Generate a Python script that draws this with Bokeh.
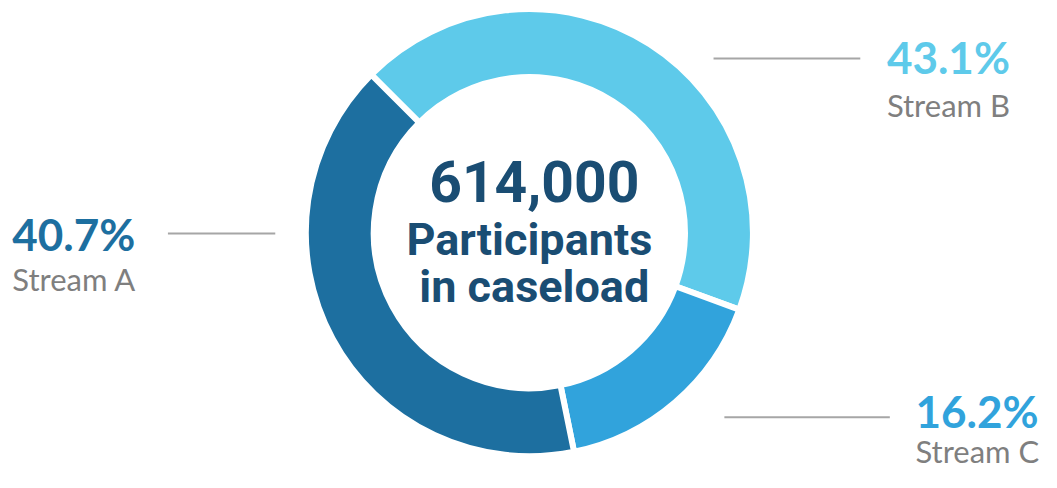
import math
from bokeh.plotting import figure
from bokeh.models import Range1d, ColumnDataSource
from bokeh.core.properties import value
from bokeh.embed import file_html
from bokeh.resources import INLINE

# ---- data ----
streams = ["Stream B", "Stream C", "Stream A"]          # clockwise order from upper-left
shares = [43.1, 16.2, 40.7]
pct_labels = ["43.1%", "16.2%", "40.7%"]
colors = ["#5ECAEA", "#31A3DC", "#1D6FA0"]
total_value = "614,000"
center_lines = ["Participants", "in caseload"]

W, H = 1041, 472
p = figure(width=W, height=H, output_backend="svg", toolbar_location=None,
           x_range=Range1d(0, 1057), y_range=Range1d(0, 488),
           min_border=0, outline_line_color=None)
p.axis.visible = False
p.grid.visible = False
p.background_fill_color = "white"

def Y(sy, fs=0):  # reference-pixel baseline y -> data y (with baseline compensation)
    return 488 - sy + 0.36 * fs

cx, cy = 537, Y(240)
start = math.radians(135)
starts, ends = [], []
a = start
for s in shares:
    starts.append(a)
    a = a - math.radians(s * 3.6)
    ends.append(a)

src = ColumnDataSource(dict(start=starts, end=ends, color=colors))
p.annular_wedge(x=cx, y=cy, inner_radius=158, outer_radius=227,
                start_angle="start", end_angle="end", direction="clock",
                fill_color="color", line_color="white", line_width=6, source=src)

navy = "#1A4D73"
p.text(x=[542], y=[Y(208, 57)], text=[total_value], text_font=value("Roboto"),
       text_font_style="bold", text_font_size="57px", text_color=navy,
       text_align="center", text_baseline="alphabetic")
p.text(x=[537, 542], y=[Y(263, 45), Y(312, 45)], text=center_lines, text_font=value("Roboto"),
       text_font_style="bold", text_font_size="45px", text_color=navy,
       text_align="center", text_baseline="alphabetic")

# labels: B (right top), C (right bottom), A (left)
lab_x = [900, 929, 12]
pct_base = [74, 440, 257]
name_base = [119, 477, 299]
lines_x0 = [724, 735, 170]
lines_x1 = [873, 903, 279]
lines_y = [60, 431, 241]

p.segment(x0=lines_x0, y0=[Y(v) for v in lines_y], x1=lines_x1, y1=[Y(v) for v in lines_y],
          line_color="#A6A6A6", line_width=2)
p.text(x=lab_x, y=[Y(v, 44) for v in pct_base], text=pct_labels, text_font=value("Lato"),
       text_font_style="bold", text_font_size="44px", text_color=colors,
       text_align="left", text_baseline="alphabetic")
p.text(x=lab_x, y=[Y(v, 31) for v in name_base], text=streams, text_font=value("Lato"),
       text_font_size="31px", text_color="#7F7F7F",
       text_align="left", text_baseline="alphabetic")

open("out.html", "w").write(file_html(p, INLINE))
